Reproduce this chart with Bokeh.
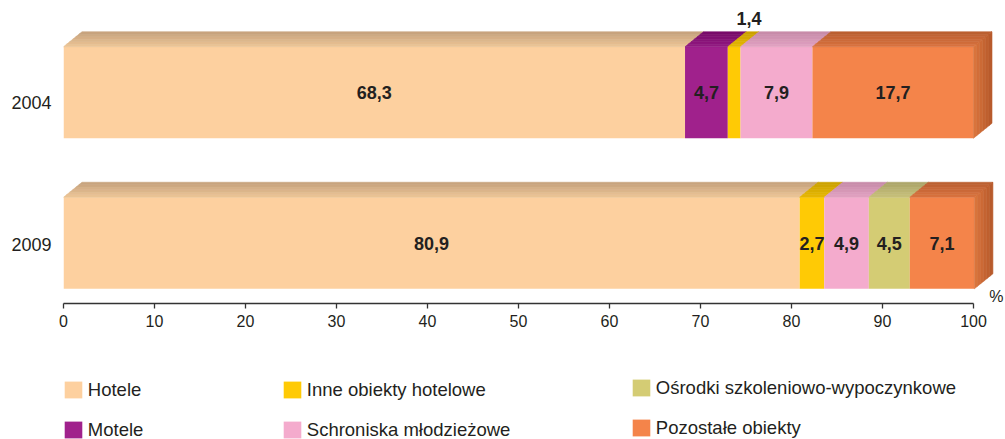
from bokeh.plotting import figure
from bokeh.layouts import column
from bokeh.models import Range1d, FixedTicker, Legend, LegendItem, Label, ColumnDataSource
from bokeh.core.properties import value
from bokeh.embed import file_html
from bokeh.resources import INLINE

# ---------------- data ----------------
years = ["2004", "2009"]
series_names = ["Hotele", "Motele", "Inne obiekty hotelowe",
                "Schroniska młodzieżowe", "Ośrodki szkoleniowo-wypoczynkowe",
                "Pozostałe obiekty"]
hotele = [68.3, 80.9]
motele = [4.7, 0.0]
inne = [1.4, 2.7]
schroniska = [7.9, 4.9]
osrodki = [0.0, 4.5]
pozostale = [17.7, 7.1]
x_ticks = [0, 10, 20, 30, 40, 50, 60, 70, 80, 90, 100]

series = [hotele, motele, inne, schroniska, osrodki, pozostale]

# ---------------- styles ----------------
front_colors = ["#FDD09F", "#A0218C", "#FFCA05", "#F4ABCD", "#D4CC74", "#F4844A"]
top_back = ["#C4A17C", "#760A68", "#C9A000", "#C68AA8", "#AAA468", "#B85E30"]
top_front = ["#EEC696", "#931A82", "#E8B800", "#E2A2C2", "#C9C17A", "#DB733F"]
side_front, side_back = "#DC763E", "#B5582A"
FONT = "Liberation Sans"
TXT = "#231F20"

W = 1005
PX = 9.1                      # pixels per percent
LEFT = 63
FRAME_W = W - LEFT
row_center = [211, 60.5]      # y positions (px units) of the bars' front faces
label_pos = [201, 59]         # y positions of the year labels
bar_h = 91.5
dx = 18.5 / PX                # depth of 3D effect (x, data units)
dy = 15.0                     # depth of 3D effect (y, px units)
NB = 6                        # gradient bands


def hx(c):
    c = c.lstrip("#")
    return [int(c[i:i + 2], 16) for i in (0, 2, 4)]


def mix(a, b, t):
    ca, cb = hx(a), hx(b)
    return "#%02x%02x%02x" % tuple(round(ca[i] + (cb[i] - ca[i]) * t) for i in range(3))


p = figure(width=W, height=340,
           x_range=Range1d(0, FRAME_W / PX), y_range=Range1d(0, 295),
           output_backend="svg", toolbar_location=None,
           min_border_left=LEFT, min_border_right=0, min_border_top=8,
           min_border_bottom=37)
p.outline_line_color = None
p.grid.visible = False
p.background_fill_color = "white"
p.border_fill_color = "white"

# ---------------- front faces ----------------
lefts = [0.0, 0.0]
seg_info = []
for si, vals in enumerate(series):
    l = list(lefts)
    r = [l[k] + vals[k] for k in range(2)]
    src = ColumnDataSource(dict(y=row_center, left=l, right=r))
    p.hbar(y="y", height=bar_h, left="left", right="right", source=src,
           fill_color=front_colors[si], line_color=None)
    for k in range(2):
        if vals[k] > 0:
            seg_info.append((si, k, l[k], r[k], vals[k]))
    lefts = r

# ---------------- top faces (gradient bands) ----------------
xs, ys, cs = [], [], []
for (si, k, l, r, v) in seg_info:
    T = row_center[k] + bar_h / 2
    for b in range(NB):
        f0, f1 = b / NB, (b + 1) / NB
        xs.append([l + f0 * dx, r + f0 * dx, r + f1 * dx, l + f1 * dx])
        ys.append([T + f0 * dy, T + f0 * dy, T + f1 * dy, T + f1 * dy])
        cs.append(mix(top_front[si], top_back[si], (b + 0.5) / NB))
# side faces of the last segment
for k in range(2):
    R = lefts[k]
    T = row_center[k] + bar_h / 2
    B = row_center[k] - bar_h / 2
    for b in range(NB):
        f0, f1 = b / NB, (b + 1) / NB
        xs.append([R + f0 * dx, R + f0 * dx, R + f1 * dx, R + f1 * dx])
        ys.append([B + f0 * dy, T + f0 * dy, T + f1 * dy, B + f1 * dy])
        cs.append(mix(side_front, side_back, (b + 0.5) / NB))
p.patches(xs, ys, fill_color=cs, line_color=cs, line_width=0.6)

# ---------------- value labels ----------------
tx, ty, tt = [], [], []
for (si, k, l, r, v) in seg_info:
    txt = ("%.1f" % v).replace(".", ",")
    c = (l + r) / 2
    if v < 2:
        tx.append(c + 0.8 * dx)
        ty.append(row_center[k] + bar_h / 2 + dy + 13)
    else:
        tx.append(c)
        ty.append(row_center[k])
    tt.append(txt)
p.text(x=tx, y=ty, text=tt, text_align="center", text_baseline="middle",
       text_font=value(FONT), text_font_size="18px", text_font_style="bold",
       text_color=TXT)

# ---------------- axes ----------------
xa = p.xaxis[0]
xa.ticker = FixedTicker(ticks=x_ticks)
xa.bounds = (0, 100)
xa.axis_line_color = "#333333"
xa.axis_line_width = 1.3
xa.major_tick_line_color = "#333333"
xa.major_tick_line_width = 1.3
xa.major_tick_out = 5
xa.major_tick_in = 0
xa.minor_tick_line_color = None
xa.major_label_text_font = FONT
xa.major_label_text_font_size = "16px"
xa.major_label_text_color = TXT
xa.major_label_standoff = 6

ya = p.yaxis[0]
ya.ticker = FixedTicker(ticks=label_pos)
ya.major_label_overrides = {label_pos[i]: years[i] for i in range(2)}
ya.axis_line_color = None
ya.major_tick_line_color = None
ya.minor_tick_line_color = None
ya.major_tick_out = 0
ya.major_tick_in = 0
ya.major_label_standoff = 12
ya.major_label_text_font = FONT
ya.major_label_text_font_size = "18px"
ya.major_label_text_color = TXT

p.add_layout(Label(x=102.5, y=7, text="%", text_align="center",
                   text_baseline="middle", text_font=FONT,
                   text_font_size="16px", text_color=TXT))

# ---------------- legend (separate strip, 3 columns x 2 rows) ----------------
lf = figure(width=W, height=99, x_range=Range1d(0, 1), y_range=Range1d(0, 1),
            output_backend="svg", toolbar_location=None,
            x_axis_type=None, y_axis_type=None,
            min_border_left=0, min_border_right=0, min_border_top=0,
            min_border_bottom=0)
lf.outline_line_color = None
lf.grid.visible = False
leg_renderers = []
for si in range(len(series_names)):
    # one off-range bar per series: only its legend swatch is visible
    rr = lf.hbar(y=[5], height=1, left=[5], right=[6],
                 fill_color=front_colors[si], line_color=None)
    leg_renderers.append(rr)

cols = [[0, 1], [2, 3], [4, 5]]
locs = [(-1.2, -1.5), (217.8, -1.5), (566.8, 0.5)]
for ci, idx in enumerate(cols):
    items = [LegendItem(label=series_names[i], renderers=[leg_renderers[i]]) for i in idx]
    lg = Legend(items=items, location=locs[ci], orientation="vertical",
                glyph_width=22, glyph_height=21, label_height=21,
                label_standoff=4, spacing=18, padding=0, margin=0,
                border_line_color=None, background_fill_alpha=0,
                label_text_font=FONT, label_text_font_size="18.5px",
                label_text_color=TXT)
    lf.add_layout(lg, "center")

layout = column(p, lf, spacing=0)
open("out.html", "w").write(file_html(layout, INLINE))
